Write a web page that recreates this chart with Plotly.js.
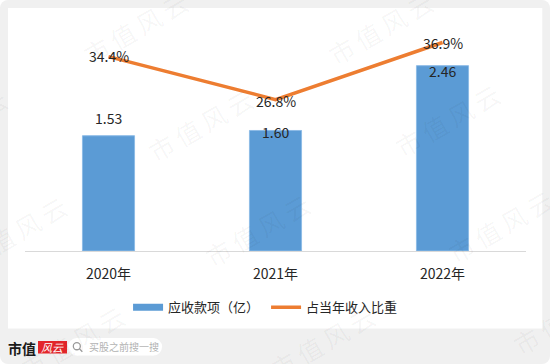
<!DOCTYPE html>
<html>
<head>
<meta charset="utf-8">
<script src="https://cdn.plot.ly/plotly-3.0.1.min.js"></script>
<style>
  html, body { margin: 0; padding: 0; background: #ffffff; }
  #chart { width: 550px; height: 364px; border-radius: 8px; overflow: hidden; }
</style>
</head>
<body>
<div id="chart"></div>
<script>
// ---- data ----
const categories = ['2020年', '2021年', '2022年'];
const receivables = [1.53, 1.60, 2.46];      // 应收款项（亿）
const revenueShare = [34.4, 26.8, 36.9];     // 占当年收入比重 (%)
const barName = '应收款项（亿）';
const lineName = '占当年收入比重';

// ---- geometry ----
const W = 550, H = 364;
const ML = 25, MR = 24.3, MT = 25, MB = 113.3;
const PW = W - ML - MR, PH = H - MT - MB;
const PB = H - MB;
const px = v => (v - ML) / PW;
const py = v => (PB - v) / PH;

const FONT = '"Noto Sans CJK SC", "Noto Sans", sans-serif';
const BLUE = '#5B9BD5', ORANGE = '#ED7D31', TXT = '#262626';

// label offsets (pixels) per point
const barLabelShift = [18, -1.5, -5];
const lineLabelShift = [0.5, -1.5, 0];

const traces = [
  { // legend-only swatch for bars
    x: [null], y: [null], type: 'scatter', mode: 'lines', name: barName,
    line: { color: BLUE, width: 7 }, hoverinfo: 'skip', showlegend: true
  },
  {
    x: categories, y: receivables, type: 'bar', name: barName, showlegend: false,
    marker: { color: BLUE, line: { color: '#8dbbe6', width: 1 } }
  },
  {
    x: categories, y: revenueShare.map(v => v / 100), type: 'scatter', mode: 'lines',
    yaxis: 'y2', name: lineName, line: { color: ORANGE, width: 3.5 }
  }
];

const annotations = [];
categories.forEach((c, i) => {
  annotations.push({
    x: c, y: receivables[i], xref: 'x', yref: 'y', showarrow: false,
    xanchor: 'center', yanchor: 'middle',
    text: receivables[i].toFixed(2), yshift: barLabelShift[i],
    font: { family: FONT, size: 14, color: TXT }
  });
  annotations.push({
    x: c, y: revenueShare[i] / 100, xref: 'x', yref: 'y2', showarrow: false,
    xanchor: 'center', yanchor: 'middle',
    text: revenueShare[i].toFixed(1) + '%', yshift: lineLabelShift[i],
    font: { family: FONT, size: 14, color: TXT }
  });
});

// watermarks
const wmCenters = [
  [-110, 28], [135, 28], [380, 28],
  [-45, 125], [200, 125], [447, 120],
  [15, 232], [257, 230], [500, 226],
  [72, 342], [322, 342], [565, 318]
];
wmCenters.forEach(([x, y]) => {
  annotations.push({
    x: px(x), y: py(y), xref: 'paper', yref: 'paper', showarrow: false,
    xanchor: 'center', yanchor: 'middle',
    text: '市\u2009值\u2009风\u2009云', textangle: -30,
    font: { family: FONT, size: 25, color: 'rgba(0,0,0,0.045)' }
  });
});

// footer texts
annotations.push({
  x: px(22), y: py(347.5), xref: 'paper', yref: 'paper', showarrow: false,
  xanchor: 'center', yanchor: 'middle',
  text: '<b>市值</b>', font: { family: FONT, size: 14, color: '#1a1a1a' }
});
annotations.push({
  x: px(52.5), y: py(346.8), xref: 'paper', yref: 'paper', showarrow: false,
  xanchor: 'center', yanchor: 'middle',
  text: '<i>风云</i>', font: { family: FONT, size: 11, color: '#ffffff' }
});
annotations.push({
  x: px(86.5), y: py(346.5), xref: 'paper', yref: 'paper', showarrow: false,
  xanchor: 'left', yanchor: 'middle',
  text: '买股之前搜一搜', font: { family: FONT, size: 10, color: '#b3b3b3' }
});

const shapes = [
  // white card
  { type: 'rect', xref: 'paper', yref: 'paper', layer: 'below',
    x0: px(8), x1: px(542), y0: py(328), y1: py(8),
    fillcolor: '#ffffff', line: { width: 0 } },
  // red logo box
  { type: 'rect', xref: 'paper', yref: 'paper',
    x0: px(38), x1: px(67), y0: py(353), y1: py(340.5),
    fillcolor: '#e3262b', line: { width: 0 }, layer: 'below' },
  // search pill
  { type: 'rect', xref: 'paper', yref: 'paper',
    x0: px(76.6), x1: px(153.4), y0: py(355), y1: py(337.7),
    fillcolor: '#ffffff', line: { width: 0 }, layer: 'below' },
  { type: 'circle', xref: 'paper', yref: 'paper',
    x0: px(68), x1: px(85.3), y0: py(355), y1: py(337.7),
    fillcolor: '#ffffff', line: { width: 0 }, layer: 'below' },
  { type: 'circle', xref: 'paper', yref: 'paper',
    x0: px(144.7), x1: px(162), y0: py(355), y1: py(337.7),
    fillcolor: '#ffffff', line: { width: 0 }, layer: 'below' },
  // magnifier
  { type: 'circle', xref: 'paper', yref: 'paper',
    x0: px(73.3), x1: px(80.3), y0: py(349.3), y1: py(342.3),
    line: { color: '#9a9a9a', width: 1.3 } },
  { type: 'line', xref: 'paper', yref: 'paper',
    x0: px(79.4), x1: px(82.3), y0: py(348.4), y1: py(351.3),
    line: { color: '#9a9a9a', width: 1.3 } }
];

const layout = {
  width: W, height: H,
  margin: { l: ML, r: MR, t: MT, b: MB, pad: 0 },
  paper_bgcolor: '#f0f0f0',
  plot_bgcolor: 'rgba(0,0,0,0)',
  font: { family: FONT, color: TXT },
  bargap: 0.688,
  showlegend: true,
  legend: {
    orientation: 'h', x: px(128), xanchor: 'left', y: py(307), yanchor: 'middle',
    bgcolor: 'rgba(0,0,0,0)', font: { family: FONT, size: 13, color: TXT },
    itemwidth: 30, traceorder: 'normal', entrywidth: 93, entrywidthmode: 'pixels'
  },
  xaxis: {
    type: 'category', showline: true, linecolor: '#d9d9d9', linewidth: 1,
    ticks: '', showgrid: false, zeroline: false, fixedrange: true,
    tickfont: { family: FONT, size: 14, color: TXT }, ticklabelstandoff: 10
  },
  yaxis: { range: [0, 3], visible: false, showgrid: false, zeroline: false, fixedrange: true },
  yaxis2: { range: [0, 0.4], overlaying: 'y', side: 'right', visible: false,
            showgrid: false, zeroline: false, fixedrange: true },
  annotations: annotations,
  shapes: shapes
};

Plotly.newPlot('chart', traces, layout, { displayModeBar: false, staticPlot: true });
</script>
</body>
</html>
